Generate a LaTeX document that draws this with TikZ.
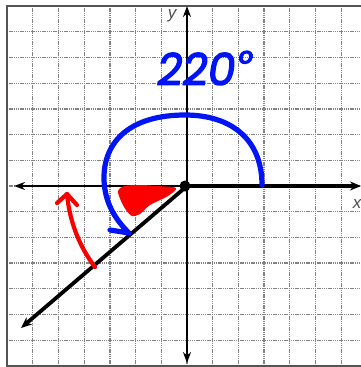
\documentclass[tikz,border=0pt]{standalone}
\usepackage{fontspec}
\setmainfont{Liberation Sans}
\newfontfamily\handfont[FakeSlant=0.15,FakeBold=3]{Poppins}
\usetikzlibrary{arrows.meta}
\definecolor{penblue}{RGB}{0,20,245}
\definecolor{penred}{RGB}{252,0,0}
\definecolor{gridgray}{RGB}{130,130,130}
\definecolor{framegray}{RGB}{85,85,85}
\definecolor{labelgray}{RGB}{80,80,80}
\begin{document}
\begin{tikzpicture}[x=1pt,y=-1pt,
  gridline/.style={gridgray, line width=1.3pt, dash pattern=on 1.4pt off 0.8pt},
  axisline/.style={black, line width=1.8pt, -{Stealth[length=11pt,width=8pt]}},
  boldline/.style={black, line width=3.8pt, -{Stealth[length=11pt,width=9pt]}},
  bluepen/.style={penblue, line width=5.2pt, line cap=round, line join=round},
  redpen/.style={penred, line width=4.2pt, line cap=round, line join=round},
  axislabel/.style={labelgray, font=\itshape\fontsize{17}{17}\selectfont, inner sep=0pt}]
\useasboundingbox (0,0) rectangle (361,367);
\clip (0,0) rectangle (361,367);
\fill[white] (0,0) rectangle (361,367);
% grid
\foreach \k in {-6,...,6} {
  \draw[gridline] ({187+\k*25.7},6) -- ({187+\k*25.7},366);
  \draw[gridline] (7,{186+\k*25.7}) -- (367,{186+\k*25.7});
}
\draw[framegray, line width=2.4pt] (7,6) rectangle (367,366);
% axes
\coordinate (O) at (187,186);
\coordinate (xl) at (14,186);
\coordinate (xr) at (361,186);
\coordinate (yt) at (187,6);
\coordinate (yb) at (187,363);
\coordinate (ray) at (21,328);
\draw[axisline] (O) -- (xl);
\draw[axisline] (O) -- (yt);
\draw[axisline] (O) -- (yb);
\draw[boldline] (O) -- (xr);
\draw[boldline] (O) -- (ray);
\node[axislabel] (ylab) at (172,16) {y};
\node[axislabel] (xlab) at (357,204) {x};
% red shading near the vertex
\fill[penred] plot[smooth cycle, tension=0.5] coordinates
  {(118,191) (124,186) (140,185) (158,186) (176,188) (168,196) (150,205) (140,214) (132,216) (126,210) (121,201)};
\fill[black] (185,186) circle (5.5);
% blue rotation arc
\coordinate (bs) at (262,185);
\coordinate (btip) at (129,233);
\draw[bluepen] (bs) .. controls (262,140) and (232,115) .. (185,115)
  .. controls (132,115) and (103,140) .. (104,180)
  .. controls (105,205) and (117,221) .. (btip);
\draw[bluepen] (110,230) -- (btip);
% red reference arrow
\coordinate (rs) at (95,267);
\coordinate (rtip) at (67,194);
\draw[redpen] (rs) .. controls (82,250) and (70,226) .. (rtip);
\draw[redpen] (57,203) -- (rtip) -- (77,205);
% handwritten angle
\node[penblue, font=\handfont\fontsize{44}{44}\selectfont, inner sep=0pt] (ang) at (203,68) {220\hspace{2pt}\raisebox{9pt}{\fontsize{36}{36}\selectfont °}};
\end{tikzpicture}
\end{document}
